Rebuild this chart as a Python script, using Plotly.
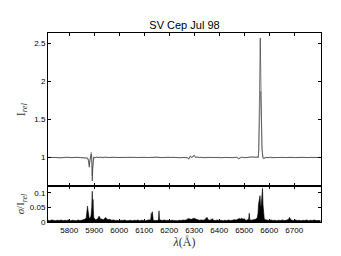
import plotly.graph_objects as go

# ---------------- data ----------------
lam_top = [
    5715, 5725, 5735, 5745, 5755, 5765, 5775, 5785, 5795, 5805,
    5815, 5825, 5835, 5845, 5855, 5865, 5870, 5874, 5877, 5880,
    5883, 5886, 5888, 5890, 5892, 5894, 5896, 5898, 5902, 5908,
    5915, 5925, 5935, 5945, 5955, 5965, 5975, 5985, 5995, 6005,
    6015, 6025, 6035, 6045, 6055, 6065, 6075, 6085, 6095, 6105,
    6115, 6125, 6135, 6145, 6155, 6165, 6175, 6185, 6195, 6205,
    6215, 6225, 6235, 6245, 6255, 6265, 6272, 6278, 6283, 6290,
    6296, 6300, 6305, 6312, 6320, 6330, 6340, 6350, 6360, 6370,
    6380, 6390, 6400, 6410, 6420, 6430, 6440, 6450, 6460, 6470,
    6478, 6484, 6490, 6496, 6505, 6515, 6525, 6535, 6545, 6552,
    6556, 6558, 6560, 6562, 6564, 6566, 6568, 6571, 6575, 6578,
    6582, 6588, 6595, 6605, 6615, 6625, 6635, 6645, 6655, 6665,
    6675, 6685, 6695, 6705, 6715, 6725, 6735, 6745, 6755, 6765,
    6775, 6785, 6795, 6805,
]
i_black = [
    1.000, 0.998, 1.001, 0.997, 0.995, 0.992, 0.996, 1.002, 0.998, 1.000,
    0.997, 1.001, 0.998, 0.996, 1.000, 0.998, 0.995, 0.990, 0.950, 0.870,
    0.970, 1.000, 1.040, 0.970, 0.690, 0.850, 0.980, 1.003, 0.992, 1.006,
    0.996, 1.004, 0.995, 1.005, 0.998, 1.002, 0.997, 1.001, 0.999, 0.996,
    1.001, 0.998, 1.002, 0.997, 1.000, 0.998, 1.001, 0.996, 1.000, 0.998,
    1.002, 0.997, 1.000, 1.003, 0.998, 1.001, 0.997, 1.000, 0.996, 0.999,
    1.001, 0.998, 1.000, 0.995, 0.999, 0.997, 1.000, 0.975, 1.010, 0.998,
    1.015, 1.030, 0.998, 1.005, 0.997, 1.002, 0.996, 1.001, 0.998, 1.000,
    0.997, 1.002, 0.998, 0.995, 1.000, 0.997, 1.001, 0.996, 0.999, 1.002,
    0.985, 0.992, 1.004, 0.996, 1.002, 1.000, 1.005, 1.003, 1.008, 1.004,
    1.000, 1.100, 1.550, 2.100, 2.570, 2.100, 1.600, 1.100, 0.990, 0.985,
    0.992, 1.000, 0.997, 1.002, 0.996, 0.999, 1.001, 0.997, 1.000, 0.998,
    1.002, 0.996, 1.000, 0.998, 1.001, 0.997, 1.000, 0.998, 1.002, 0.999,
    0.997, 1.001, 0.999, 1.000,
]
i_gray = [
    0.998, 1.001, 0.997, 1.000, 0.993, 0.996, 1.000, 0.998, 1.002, 0.997,
    1.000, 0.998, 1.001, 0.999, 0.997, 1.000, 0.993, 0.985, 0.960, 0.900,
    0.985, 1.010, 1.070, 0.990, 0.760, 0.900, 0.995, 1.008, 0.998, 1.000,
    1.004, 0.997, 1.003, 0.998, 1.001, 0.997, 1.002, 0.998, 1.000, 1.002,
    0.998, 1.001, 0.997, 1.001, 0.998, 1.002, 0.998, 1.001, 0.997, 1.001,
    0.998, 1.001, 0.998, 0.999, 1.002, 0.997, 1.001, 0.998, 1.002, 1.000,
    0.997, 1.001, 0.997, 1.000, 0.996, 1.001, 0.993, 0.985, 1.020, 1.004,
    1.005, 1.015, 1.004, 0.999, 1.002, 0.997, 1.001, 0.997, 1.002, 0.997,
    1.001, 0.998, 1.001, 0.998, 0.997, 1.001, 0.997, 1.001, 0.997, 0.998,
    0.980, 0.996, 0.998, 1.002, 0.997, 1.003, 1.001, 1.006, 1.005, 1.010,
    1.000, 1.080, 1.350, 1.650, 1.800, 1.870, 1.550, 1.120, 1.000, 0.990,
    0.996, 0.997, 1.001, 0.998, 1.001, 0.997, 1.002, 0.999, 0.997, 1.001,
    0.998, 1.001, 0.997, 1.002, 0.998, 1.001, 0.997, 1.001, 0.998, 1.001,
    1.000, 0.998, 1.001, 0.999,
]

lam_sig = [
    5715, 5722, 5730, 5738, 5745, 5752, 5760, 5768, 5775, 5782,
    5790, 5798, 5805, 5812, 5820, 5828, 5835, 5842, 5850, 5858,
    5864, 5868, 5871, 5873, 5875, 5877, 5880, 5884, 5887, 5890,
    5892, 5893, 5894, 5895, 5896, 5898, 5901, 5905, 5910, 5915,
    5919, 5921, 5925, 5930, 5936, 5942, 5946, 5950, 5956, 5962,
    5970, 5978, 5985, 5992, 6000, 6008, 6015, 6022, 6030, 6038,
    6045, 6052, 6060, 6068, 6075, 6082, 6090, 6098, 6105, 6112,
    6120, 6126, 6128, 6130, 6132, 6134, 6136, 6140, 6148, 6155,
    6157, 6159, 6161, 6165, 6172, 6180, 6188, 6195, 6202, 6210,
    6218, 6225, 6232, 6240, 6248, 6255, 6262, 6270, 6276, 6282,
    6288, 6294, 6300, 6306, 6312, 6320, 6328, 6335, 6342, 6348,
    6351, 6355, 6362, 6368, 6372, 6378, 6385, 6392, 6400, 6408,
    6415, 6422, 6430, 6438, 6445, 6452, 6460, 6468, 6475, 6480,
    6485, 6490, 6495, 6500, 6505, 6510, 6515, 6518, 6520, 6522,
    6528, 6535, 6542, 6548, 6552, 6555, 6557, 6559, 6561, 6563,
    6565, 6567, 6569, 6571, 6573, 6575, 6577, 6580, 6585, 6592,
    6600, 6608, 6615, 6622, 6630, 6638, 6645, 6652, 6660, 6668,
    6675, 6679, 6681, 6684, 6690, 6698, 6705, 6712, 6720, 6728,
    6735, 6742, 6750, 6758, 6765, 6772, 6780, 6788, 6795, 6805,
]
sig = [
    .006, .004, .007, .005, .004, .006, .005, .007, .004, .006,
    .005, .007, .004, .006, .005, .004, .007, .005, .006, .008,
    .010, .015, .030, .054, .040, .020, .012, .015, .020, .050,
    .105, .060, .030, .077, .040, .015, .010, .008, .009, .012,
    .020, .018, .009, .010, .008, .012, .015, .010, .008, .009,
    .006, .007, .005, .006, .004, .006, .005, .007, .004, .005,
    .006, .004, .006, .005, .007, .004, .006, .005, .004, .006,
    .006, .008, .030, .012, .035, .020, .006, .005, .006, .005,
    .010, .038, .008, .006, .005, .007, .005, .006, .004, .006,
    .005, .006, .004, .006, .005, .007, .006, .008, .012, .010,
    .009, .011, .013, .010, .008, .006, .007, .006, .008, .012,
    .016, .008, .006, .008, .011, .006, .005, .007, .005, .006,
    .004, .006, .005, .007, .005, .006, .008, .007, .009, .012,
    .010, .013, .009, .011, .007, .006, .008, .012, .030, .008,
    .006, .007, .008, .010, .015, .030, .060, .080, .085, .090,
    .060, .050, .070, .100, .115, .060, .020, .010, .008, .006,
    .005, .007, .005, .006, .004, .006, .005, .007, .005, .006,
    .008, .012, .016, .010, .006, .005, .007, .005, .006, .004,
    .006, .005, .007, .004, .006, .005, .007, .005, .006, .005,
]

x_ticks = [5800, 5900, 6000, 6100, 6200, 6300, 6400, 6500, 6600, 6700]
y_top_ticks = [1, 1.5, 2, 2.5]
y_top_labels = ["1", "1.5", "2", "2.5"]
y_bot_ticks = [0, 0.05, 0.1]
y_bot_labels = ["0", "0.05", "0.1"]

# ---------------- figure ----------------
fig = go.Figure()
fig.add_trace(go.Scatter(x=lam_top, y=i_gray, mode="lines",
                         line=dict(color="#8a8a8a", width=0.7),
                         xaxis="x2", yaxis="y2", showlegend=False))
fig.add_trace(go.Scatter(x=lam_top, y=i_black, mode="lines",
                         line=dict(color="#222222", width=0.6),
                         xaxis="x2", yaxis="y2", showlegend=False))
fig.add_trace(go.Scatter(x=lam_sig, y=sig, mode="lines", fill="tozeroy",
                         fillcolor="black", line=dict(color="black", width=0.6),
                         xaxis="x", yaxis="y", showlegend=False))

sans = "Liberation Sans, Arial, sans-serif"
serif = "Liberation Serif, Times New Roman, serif"
axis_common = dict(showline=True, linecolor="black", linewidth=1, mirror="ticks",
                   ticks="inside", ticklen=3, tickwidth=0.8, tickcolor="black",
                   showgrid=False, zeroline=False,
                   tickfont=dict(family=sans, size=8, color="black"))
xr = [5715, 6807]

fig.update_layout(
    width=341, height=256,
    margin=dict(l=48, r=20, t=33, b=34),
    paper_bgcolor="white", plot_bgcolor="white",
    title=dict(text="SV Cep Jul 98", x=0.5, xref="paper", y=1 - 25 / 256,
               yanchor="middle", xanchor="center",
               font=dict(family=sans, size=11, color="black")),
    xaxis=dict(domain=[0, 1], range=xr, anchor="y", tickvals=x_ticks,
               title=dict(text="<i>λ</i>(Å)", standoff=2,
                          font=dict(family=serif, size=12, color="#333")),
               **axis_common),
    xaxis2=dict(domain=[0, 1], range=xr, anchor="y2", matches="x",
                tickvals=x_ticks, showticklabels=False, **axis_common),
    yaxis=dict(domain=[0, 0.189], range=[0, 0.122], anchor="x",
               tickvals=y_bot_ticks, ticktext=y_bot_labels,
               title=dict(text="<i>σ</i>/I<sub><i>rel</i></sub>", standoff=2,
                          font=dict(family=serif, size=11, color="#333")),
               **axis_common),
    yaxis2=dict(domain=[0.189, 1], range=[0.62, 2.636], anchor="x2",
                tickvals=y_top_ticks, ticktext=y_top_labels,
                title=dict(text="I<sub><i>rel</i></sub>", standoff=6,
                           font=dict(family=serif, size=12, color="#333")),
                **axis_common),
)

fig.write_html("out.html", config={"displayModeBar": False},
               post_script="document.body.style.margin='0';")
